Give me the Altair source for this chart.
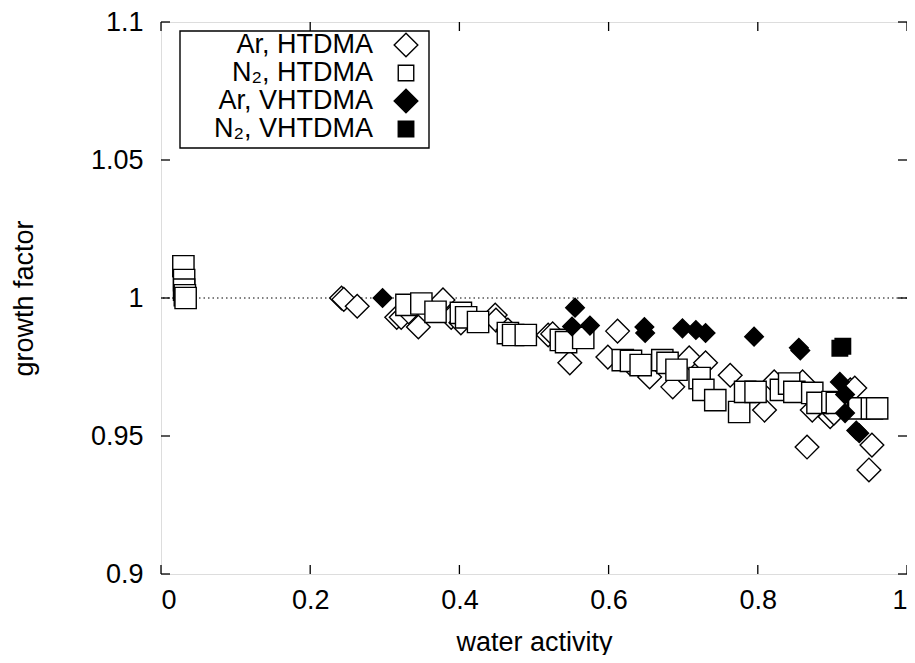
import altair as alt
import pandas as pd

# ---------------- data ----------------
series_names = ["Ar, HTDMA", "N₂, HTDMA", "Ar, VHTDMA", "N₂, VHTDMA"]

ar_htdma_x = [0.242, 0.245, 0.263, 0.316, 0.322, 0.332, 0.345, 0.378, 0.389, 0.402,
              0.448, 0.449, 0.465, 0.519, 0.525, 0.548, 0.599, 0.612, 0.628, 0.655,
              0.686, 0.708, 0.730, 0.763, 0.809, 0.822, 0.860, 0.873, 0.866, 0.897,
              0.902, 0.924, 0.930, 0.953, 0.949]
ar_htdma_y = [1.000, 0.9995, 0.997, 0.993, 0.993, 0.995, 0.9895, 0.9993, 0.993, 0.991,
              0.9938, 0.992, 0.9884, 0.9866, 0.987, 0.9765, 0.9786, 0.988, 0.9765, 0.9714,
              0.9678, 0.9783, 0.9765, 0.972, 0.9594, 0.9696, 0.9696, 0.9594, 0.946, 0.957,
              0.9583, 0.9667, 0.9674, 0.9467, 0.9377]

n2_htdma_x = [0.030, 0.031, 0.031, 0.032, 0.033,
              0.329, 0.349, 0.368, 0.402, 0.409, 0.425, 0.465, 0.472, 0.489, 0.536,
              0.543, 0.566, 0.619, 0.630, 0.643, 0.672, 0.679, 0.691, 0.722, 0.727,
              0.743, 0.775, 0.783, 0.797, 0.831, 0.842, 0.849, 0.873, 0.880, 0.900,
              0.906, 0.936, 0.953, 0.960]
n2_htdma_y = [1.0115, 1.0065, 1.003, 1.001, 1.000,
              0.9975, 0.998, 0.995, 0.9946, 0.993, 0.9913, 0.9873, 0.9866, 0.9866, 0.9848,
              0.984, 0.9855, 0.9775, 0.9772, 0.9757, 0.9775, 0.9765, 0.974, 0.971, 0.9667,
              0.963, 0.9587, 0.966, 0.966, 0.9667, 0.969, 0.966, 0.9656, 0.962, 0.9623,
              0.962, 0.960, 0.960, 0.960]

ar_vhtdma_x = [0.297, 0.555, 0.551, 0.575, 0.648, 0.649, 0.699, 0.717, 0.730, 0.795,
               0.855, 0.857, 0.910, 0.917, 0.917, 0.932, 0.936]
ar_vhtdma_y = [1.000, 0.9965, 0.9897, 0.990, 0.9895, 0.9873, 0.989, 0.9884, 0.9873, 0.986,
               0.982, 0.981, 0.9696, 0.965, 0.9583, 0.952, 0.951]

n2_vhtdma_x = [0.910, 0.914]
n2_vhtdma_y = [0.9818, 0.9825]

x_ticks = [0, 0.2, 0.4, 0.6, 0.8, 1.0]
y_ticks = [0.9, 0.95, 1.0, 1.05, 1.1]

x_title = "water activity"
y_title = "growth factor"

# ---------------- build tables ----------------
rows = []
for name, xs, ys in zip(series_names,
                        [ar_htdma_x, n2_htdma_x, ar_vhtdma_x, n2_vhtdma_x],
                        [ar_htdma_y, n2_htdma_y, ar_vhtdma_y, n2_vhtdma_y]):
    for xv, yv in zip(xs, ys):
        rows.append({"series": name, "aw": xv, "gf": yv})
df = pd.DataFrame(rows)

W, H = 746, 552
FONT = "Liberation Sans"
FS = 27

shapes = ["diamond", "square", "diamond", "square"]
fills = ["white", "white", "black", "black"]
sizes = [560, 240, 560, 240]

xscale = alt.Scale(domain=[0, 1], nice=False, zero=False)
yscale = alt.Scale(domain=[0.9, 1.1], nice=False, zero=False)

xaxis = alt.Axis(values=x_ticks, format="~g", ticks=False, tickSize=0, domain=False,
                 grid=False, labelPadding=13, titlePadding=16,
                 labelFont=FONT, labelFontSize=FS, titleFont=FONT, titleFontSize=FS,
                 titleFontWeight="normal", labelColor="black", titleColor="black")
yaxis = alt.Axis(values=y_ticks, format="~g", ticks=False, tickSize=0, domain=False,
                 grid=False, labelPadding=18, titlePadding=52,
                 labelFont=FONT, labelFontSize=FS, titleFont=FONT, titleFontSize=FS,
                 titleFontWeight="normal", labelColor="black", titleColor="black")


def X():
    return alt.X("aw:Q", scale=xscale, title=x_title, axis=xaxis)


def Y():
    return alt.Y("gf:Q", scale=yscale, title=y_title, axis=yaxis)


points = alt.Chart(df).mark_point(filled=True, stroke="black", strokeWidth=1.4, opacity=1).encode(
    x=X(), y=Y(),
    shape=alt.Shape("series:N", scale=alt.Scale(domain=series_names, range=shapes), legend=None),
    fill=alt.Fill("series:N", scale=alt.Scale(domain=series_names, range=fills), legend=None),
    size=alt.Size("series:N", scale=alt.Scale(domain=series_names, range=sizes), legend=None),
)

# dotted reference line at growth factor = 1
ref = alt.Chart(pd.DataFrame({"gf": [1.0]})).mark_rule(
    color="black", strokeWidth=1, strokeDash=[1.5, 3]).encode(y=Y())

# inward ticks (gnuplot style, mirrored)
xt = pd.DataFrame({"aw": x_ticks})
yt = pd.DataFrame({"gf": y_ticks})
tick_style = dict(color="black", strokeWidth=1.3)
xt_bottom = alt.Chart(xt).mark_rule(**tick_style).encode(
    x=X(), y=alt.value(H), y2=alt.value(H - 9))
xt_top = alt.Chart(xt).mark_rule(**tick_style).encode(
    x=X(), y=alt.value(0), y2=alt.value(9))
yt_left = alt.Chart(yt).mark_rule(**tick_style).encode(
    y=Y(), x=alt.value(0), x2=alt.value(9))
yt_right = alt.Chart(yt).mark_rule(**tick_style).encode(
    y=Y(), x=alt.value(W), x2=alt.value(W - 9))

# legend box (gnuplot style: text right-aligned, symbol on the right)
legend_layers = [
    alt.Chart(pd.DataFrame({"a": [0]})).mark_rect(fill="white", stroke="black", strokeWidth=1.4).encode(
        x=alt.value(19), x2=alt.value(268), y=alt.value(9), y2=alt.value(126))
]
row_y = [23, 51, 79, 107]
for name, shp, fl, sz, ry in zip(series_names, shapes, fills, sizes, row_y):
    legend_layers.append(
        alt.Chart(pd.DataFrame({"a": [0]})).mark_text(
            align="right", baseline="middle", font=FONT, fontSize=FS, color="black").encode(
            x=alt.value(212), y=alt.value(ry), text=alt.value(name)))
    legend_layers.append(
        alt.Chart(pd.DataFrame({"a": [0]})).mark_point(
            shape=shp, filled=True, fill=fl, stroke="black", strokeWidth=1.4, size=sz, opacity=1).encode(
            x=alt.value(245), y=alt.value(ry)))

chart = alt.layer(ref, xt_bottom, xt_top, yt_left, yt_right, points, *legend_layers).properties(
    width=W, height=H,
    autosize=alt.AutoSizeParams(type="none"),
    padding={"left": 153, "top": 14, "right": 0, "bottom": 81},
).configure_view(stroke="black", strokeWidth=1.5).configure(background="white")

chart.save("out.html", embed_options={"renderer": "svg", "actions": False})
